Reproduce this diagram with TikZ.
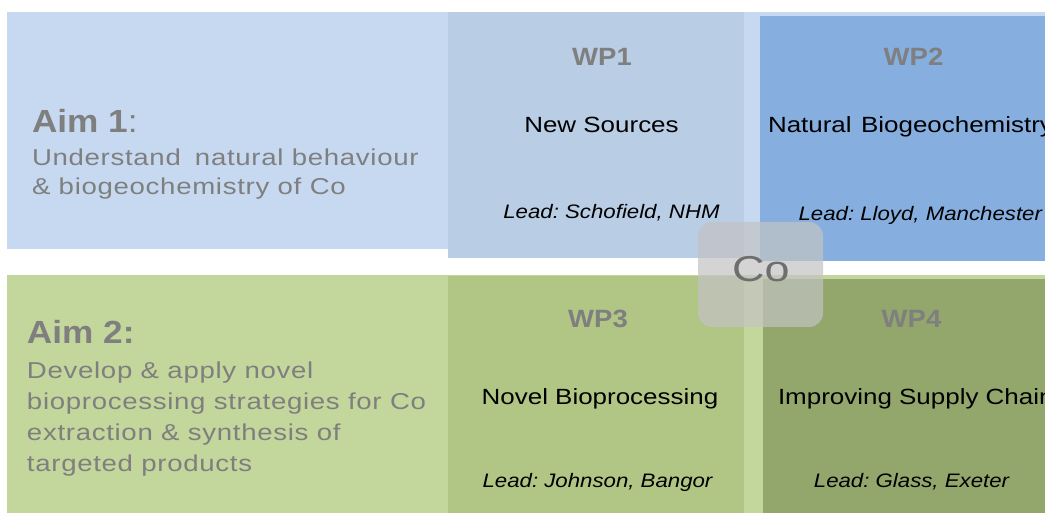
\documentclass[tikz,border=0pt]{standalone}
\usepackage{fontspec}
\setmainfont{Liberation Sans}
\newfontfamily\fAimT[FakeStretch=1.1]{Liberation Sans}
\newfontfamily\fAimB[FakeStretch=1.2,LetterSpace=3]{Liberation Sans}
\newfontfamily\fWP[FakeStretch=1.1]{Liberation Sans}
\newfontfamily\fTitle[FakeStretch=1.18]{Liberation Sans}
\newfontfamily\fLead[FakeStretch=1.14]{Liberation Sans}
\newfontfamily\fCo[FakeStretch=1.25]{Liberation Sans}
\definecolor{bandA}{HTML}{C6D9F0}
\definecolor{wpA}{HTML}{B9CDE5}
\definecolor{wpB}{HTML}{86AFDF}
\definecolor{bandB}{HTML}{C3D69B}
\definecolor{wpC}{HTML}{B1C585}
\definecolor{wpD}{HTML}{93A66B}
\definecolor{graytxt}{HTML}{7F7F7F}
\definecolor{cotxt}{HTML}{6E6E6E}
\definecolor{cogray}{HTML}{C3C3C3}
\begin{document}
\frenchspacing
\begin{tikzpicture}[x=1pt,y=-1pt,
  txt/.style={inner sep=0pt,outer sep=0pt},
  aimtitle/.style={txt,anchor=base west,text=graytxt,font=\fAimT\fontsize{32}{36}\selectfont},
  aimbody/.style={txt,anchor=base west,text=graytxt,font=\fAimB\fontsize{23}{27}\selectfont},
  wplabel/.style={txt,anchor=base,text=graytxt,font=\fWP\bfseries\fontsize{25}{30}\selectfont},
  wptitle/.style={txt,text=black,font=\fTitle\fontsize{22}{26}\selectfont},
  leadtxt/.style={txt,text=black,font=\fLead\itshape\fontsize{19.5}{23}\selectfont},
  cobox/.style={minimum width=125pt,minimum height=105pt,rounded corners=14pt,fill=cogray,fill opacity=0.7,inner sep=0pt}
]
\useasboundingbox (0,0) rectangle (1045,513);
\clip (0,0) rectangle (1045,513);
\fill[white] (0,0) rectangle (1045,513);
% Aim 1 band and work packages
\fill[bandA] (7,12) rectangle (1045,249);
\fill[bandA] (744,12) rectangle (760,259);
\fill[wpA] (448,12) rectangle (744,258);
\fill[wpB] (760,16) rectangle (1045,261);
% Aim 2 band and work packages
\fill[bandB] (7,275) rectangle (1045,513);
\fill[wpC] (448,276) rectangle (744,513);
\fill[wpD] (763,279) rectangle (1045,513);
% Aim 1 texts
\node[aimtitle] (aim1) at (32,133) {{\bfseries Aim 1}:};
\node[aimbody] (aim1a) at (32,166) {Understand\hspace{0.25em} natural behaviour};
\node[aimbody] (aim1b) at (32,195) {\& biogeochemistry of Co};
% Aim 2 texts
\node[aimtitle] (aim2) at (27,344) {\bfseries Aim 2:};
\node[aimbody] (aim2a) at (27,378) {Develop \& apply novel};
\node[aimbody] (aim2b) at (27,409) {bioprocessing strategies for Co};
\node[aimbody] (aim2c) at (27,440) {extraction \& synthesis of};
\node[aimbody] (aim2d) at (27,471) {targeted products};
% WP1
\node[wplabel] (wp1) at (602,66) {WP1};
\node[wptitle,anchor=base] (wp1t) at (601.5,133) {New Sources};
\node[leadtxt,anchor=base] (wp1l) at (611.5,219) {Lead: Schofield, NHM};
% WP2
\node[wplabel] (wp2) at (913.5,66) {WP2};
\node[wptitle,anchor=base west] (wp2t) at (768,133) {Natural\hspace{0.1em} Biogeochemistry};
\node[leadtxt,anchor=base east] (wp2l) at (1042,221) {Lead: Lloyd, Manchester};
% WP3
\node[wplabel] (wp3) at (598,327) {WP3};
\node[wptitle,anchor=base] (wp3t) at (600,404) {Novel Bioprocessing};
\node[leadtxt,anchor=base] (wp3l) at (597.5,487) {Lead: Johnson, Bangor};
% WP4
\node[wplabel] (wp4) at (911.5,327) {WP4};
\node[wptitle,anchor=base west] (wp4t) at (778,404) {Improving Supply Chain};
\node[leadtxt,anchor=base] (wp4l) at (911.5,487) {Lead: Glass, Exeter};
% Co box
\node[cobox] (co) at (760.5,274.5) {};
\node[txt,anchor=base,text=cotxt,font=\fCo\fontsize{36}{40}\selectfont] (cotext) at (761,282) {Co};
\end{tikzpicture}
\end{document}
